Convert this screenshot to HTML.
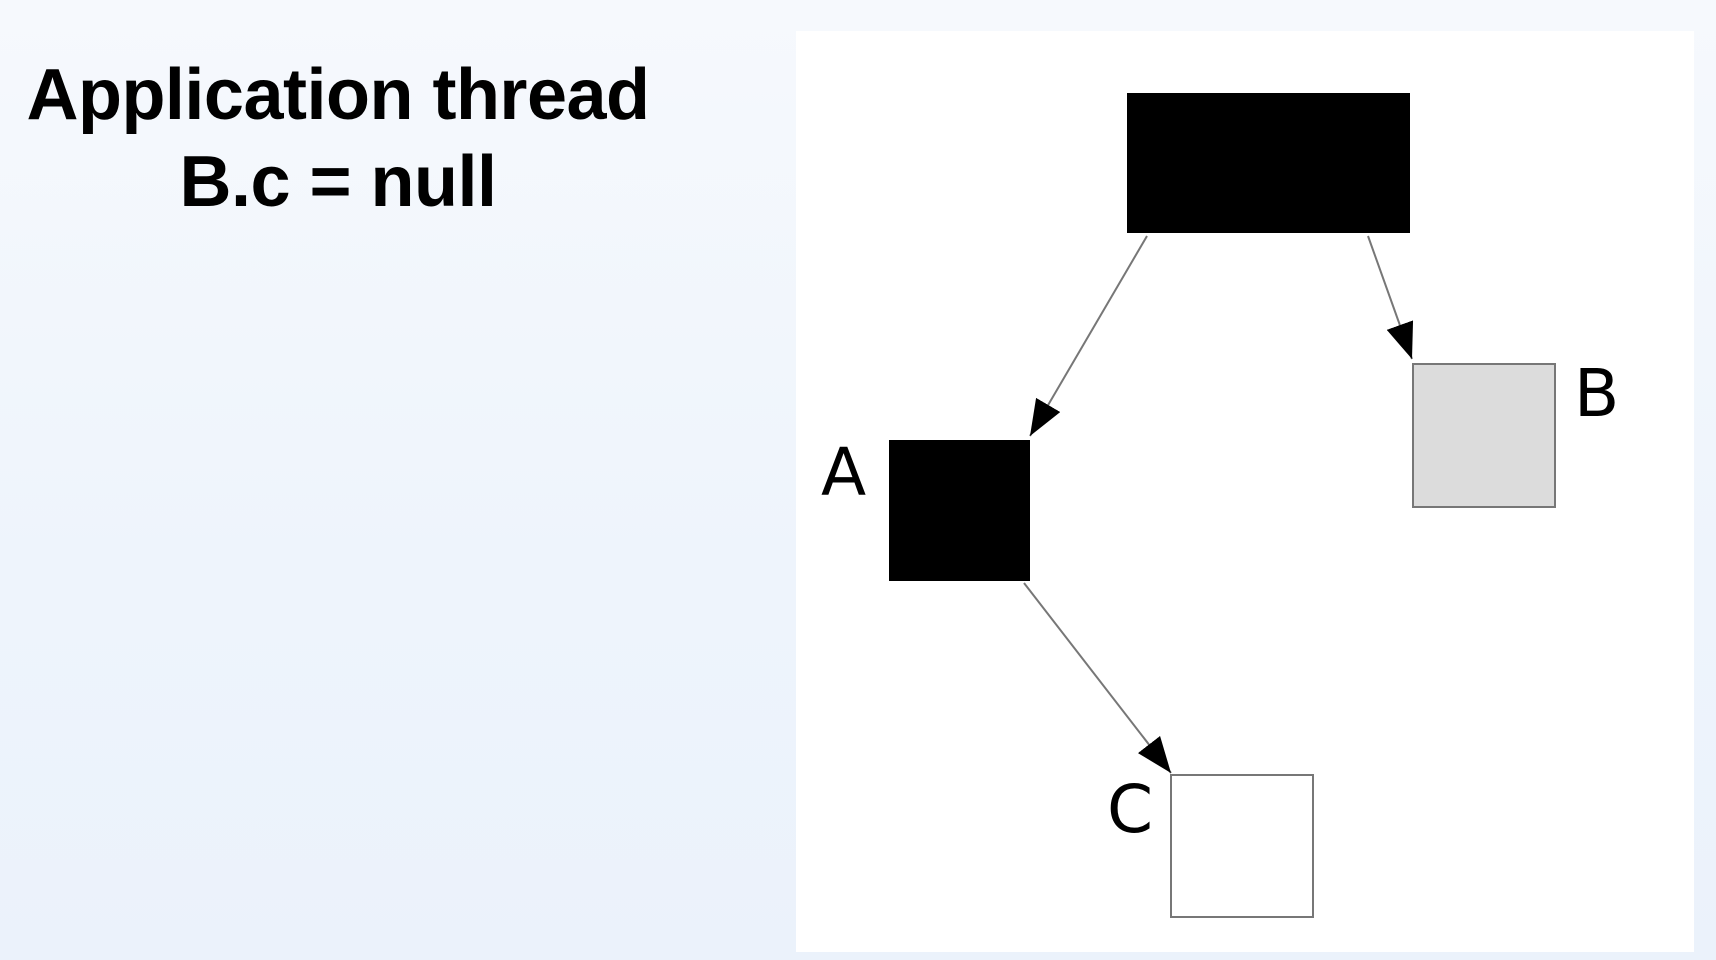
<!DOCTYPE html>
<html><head><style>
html,body{margin:0;padding:0;}
body{width:1716px;height:960px;overflow:hidden;background:linear-gradient(180deg,#f6f9fd 0%,#eef4fc 60%,#ebf2fb 100%);position:relative;font-family:"Liberation Sans",sans-serif;}
.t{position:absolute;left:0;width:676px;text-align:center;font-weight:bold;font-size:72px;color:#000;line-height:1;letter-spacing:-0.5px;}
</style></head><body>
<div class="t" style="top:59px;">Application thread</div>
<div class="t" style="top:146px;">B.c = null</div>
<svg width="1716" height="960" style="position:absolute;left:0;top:0">
<defs>
<marker id="a2" viewBox="0 0 10 10" refX="10" refY="5" markerWidth="36" markerHeight="28" orient="auto" markerUnits="userSpaceOnUse" preserveAspectRatio="none"><path d="M0,0 L10,5 L0,10 z" fill="#000"/></marker></defs>
<rect x="796" y="31" width="898" height="921" fill="#fff"/>
<rect x="1127" y="93" width="283" height="140" fill="#000"/>
<rect x="1413" y="364" width="142" height="143" fill="#dcdcdc" stroke="#777" stroke-width="2"/>
<rect x="889" y="440" width="141" height="141" fill="#000"/>
<rect x="1171" y="775" width="142" height="142" fill="#fff" stroke="#777" stroke-width="2"/>
<line x1="1147" y1="236" x2="1030" y2="436" stroke="#777" stroke-width="2" marker-end="url(#a2)"/>
<line x1="1368" y1="236" x2="1412" y2="359" stroke="#777" stroke-width="2" marker-end="url(#a2)"/>
<line x1="1024" y1="583" x2="1171" y2="773" stroke="#777" stroke-width="2" marker-end="url(#a2)"/>
<g font-family="DejaVu Sans, sans-serif" font-size="66" fill="#000">
<text x="821" y="495">A</text>
<text x="1574" y="416">B</text>
<text x="1107" y="832">C</text>
</g>
</svg>
</body></html>
